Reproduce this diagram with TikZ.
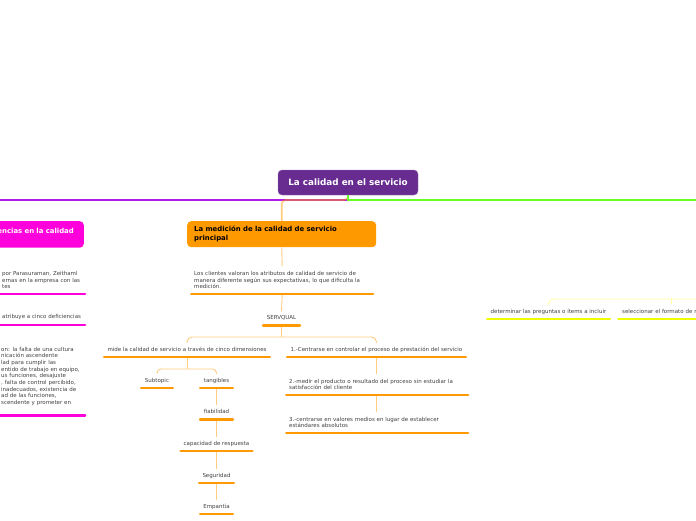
\documentclass[tikz,border=0pt]{standalone}
\usepackage{fontspec}
\setmainfont{DejaVu Sans}
\usetikzlibrary{calc}
\definecolor{MoradoCentro}{RGB}{104,44,145}
\definecolor{VioletaRama}{RGB}{178,28,232}
\definecolor{MagentaRama}{RGB}{255,0,220}
\definecolor{NaranjaRama}{RGB}{255,153,0}
\definecolor{NaranjaSuave}{RGB}{255,204,128}
\definecolor{VerdeRama}{RGB}{102,255,40}
\definecolor{AmarilloRama}{RGB}{240,255,0}
\definecolor{AmarilloSuave}{RGB}{255,255,160}
\definecolor{TextoGris}{RGB}{64,64,64}

\begin{document}
\begin{tikzpicture}[x=1pt,y=-1pt,
  tema/.style={font=\fontsize{5.5}{6.7}\selectfont,text=TextoGris,anchor=south,
    inner xsep=0pt,inner ysep=4.2pt,text height=4pt,text depth=1.3pt},
  temalargo/.style={font=\fontsize{5.5}{6.7}\selectfont,text=TextoGris,anchor=south west,
    align=left,inner xsep=4pt,inner ysep=5pt},
  rama/.style={rounded corners=4pt,minimum height=26pt,font=\bfseries\fontsize{6.9}{9}\selectfont},
  conector/.style={NaranjaSuave,line width=0.9pt,rounded corners=5pt},
  conectorA/.style={AmarilloSuave,line width=0.9pt,rounded corners=5pt},
  subrayado/.style={line width=2.6pt,line cap=round,shorten <=1.3pt,shorten >=1.3pt}]
  \useasboundingbox (0,0) rectangle (696,520);
  \clip (0,0) rectangle (696,520);

  % tema central y ramas principales
  \node[fill=MoradoCentro,draw=MoradoCentro!70!white,rounded corners=4pt,minimum width=140pt,
    minimum height=25pt,text=white,font=\bfseries\fontsize{8.8}{10}\selectfont]
    (central) at (348,182.5) {La calidad en el servicio};
  \node[rama,fill=MagentaRama,text=white,anchor=north east,minimum width=110pt,
    text width=90pt,align=right,inner xsep=7pt,inner ysep=7.5pt,text height=4.5pt,text depth=7pt]
    (deficiencias) at (84,221) {encias en la calidad};
  \node[rama,fill=NaranjaRama,text=black,anchor=north west,minimum width=189pt,
    text width=175pt,align=left,inner xsep=7pt] (medicion) at (187,221)
    {La medición de la calidad de servicio\\principal};

  \coordinate (izq) at (0,200);
  \coordinate (der) at (696,200);
  \draw[color=VioletaRama,line width=1.6pt] (central.south) -- (central.south |- izq) -- (izq);
  \draw[color=NaranjaRama,draw opacity=0.5,line width=1.6pt,rounded corners=4pt]
    (central.south) -- (central.south |- izq) -| (medicion.north);
  \draw[color=VerdeRama,line width=1.6pt] (central.south) -- (central.south |- der) -- (der);

  % deficiencias
  \node[temalargo,text width=80pt] (parasuraman) at (-2,294)
    {por Parasuraman, Zeithaml\\ernas en la empresa con las\\tes};
  \node[temalargo,text width=80pt] (atribuye) at (-2,325) {atribuye a cinco deficiencias};
  \node[temalargo,text width=81pt] (falta) at (-3,415.5)
    {on: la falta de una cultura\\nicación ascendente\\lad para cumplir las\\entido de trabajo en equipo,\\us funciones, desajuste\\, falta de control percibido,\\inadecuados, existencia de\\ad de las funciones,\\scendente y prometer en\\[-1pt]\mbox{}};

  % medicion
  \node[temalargo,text width=176pt] (clientes) at (190,294)
    { Los clientes valoran los atributos de calidad de servicio de\\manera diferente según sus expectativas, lo que dificulta la\\medición.};
  \node[tema,minimum width=39pt] (servqual) at (281.5,325.5) {SERVQUAL};
  \node[tema,minimum width=168pt] (mide) at (187,357) {mide la calidad de servicio a través de cinco dimensiones};
  \node[tema,minimum width=181pt] (uno) at (376.5,357) {1.-Centrarse en controlar el proceso de prestación del servicio};
  \node[temalargo,text width=176pt] (dos) at (285,395)
    {2.-medir el producto o resultado del proceso sin estudiar la\\satisfacción del cliente};
  \node[temalargo,text width=176pt] (tres) at (285,433)
    {3.-centrarse en valores medios en lugar de establecer\\estándares absolutos};
  \node[tema,minimum width=34pt] (subtopic) at (157,388) {Subtopic};
  \node[tema,minimum width=35pt] (tangibles) at (216.5,388) {tangibles};
  \node[tema,minimum width=35pt] (fiabilidad) at (216.5,419.5) {fiabilidad};
  \node[tema,minimum width=74pt] (capacidad) at (216.5,451) {capacidad de respuesta};
  \node[tema,minimum width=37pt] (seguridad) at (216.5,483) {Seguridad};
  \node[tema,minimum width=35pt] (empatia) at (216.5,514) {Empantía};

  \coordinate (nivelS) at (281.5,337);
  \coordinate (nivelM) at (187,369);
  \draw[conector] (medicion.south) -- (clientes.north);
  \draw[conector] (clientes.south) -- (servqual.north);
  \draw[conector] (servqual.south) -- (nivelS);
  \draw[conector] (mide.north) |- (nivelS) -| (uno.north);
  \draw[conector] (uno.south) -- (uno.south |- dos.north);
  \draw[conector] (dos.south -| uno.south) -- (uno.south |- tres.north);
  \draw[conector] (mide.south) -- (nivelM);
  \draw[conector,rounded corners=4pt] (subtopic.north) |- (nivelM) -| (tangibles.north);
  \draw[conector] (tangibles.south) -- (fiabilidad.north);
  \draw[conector] (fiabilidad.south) -- (capacidad.north);
  \draw[conector] (capacidad.south) -- (seguridad.north);
  \draw[conector] (seguridad.south) -- (empatia.north);

  % rama amarilla
  \node[tema,minimum width=125pt] (determinar) at (548.5,319) {determinar las preguntas o ítems a incluir};
  \node[temalargo,text width=98pt,inner xsep=5pt] (seleccionar) at (617,319) {seleccionar el formato de r};
  \coordinate (nivelY) at (696,299);
  \draw[conectorA] (determinar.north) |- (nivelY);
  \draw[conectorA] (seleccionar.north) -- (seleccionar.north |- nivelY);

  \foreach \n in {clientes,servqual,mide,uno,dos,tres,subtopic,tangibles,fiabilidad,capacidad,seguridad,empatia}
    \draw[subrayado,NaranjaRama] (\n.south west) -- (\n.south east);
  \foreach \n in {parasuraman,atribuye,falta}
    \draw[subrayado,MagentaRama] (\n.south west) -- (\n.south east);
  \foreach \n in {determinar,seleccionar}
    \draw[subrayado,AmarilloRama] (\n.south west) -- (\n.south east);
\end{tikzpicture}
\end{document}
